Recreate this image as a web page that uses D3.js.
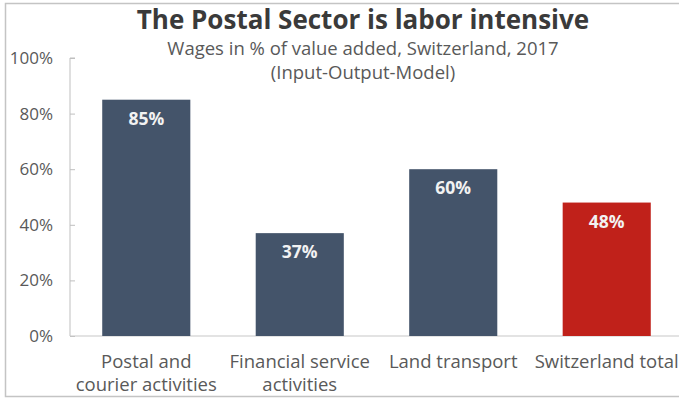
<!DOCTYPE html>
<html>
<head>
<meta charset="utf-8">
<script src="https://cdn.jsdelivr.net/npm/d3@7"></script>
<style>
  html, body { margin: 0; padding: 0; background: #fff; }
  svg { display: block; }
  text { font-family: "Open Sans", "Noto Sans", sans-serif; }
</style>
</head>
<body>
<svg id="chart" width="679" height="399"></svg>
<script>
// Wage share of value added by sector
const categories = [
  ["Postal and", "courier activities"],
  ["Financial service", "activities"],
  ["Land transport"],
  ["Switzerland total"]
];
const values = [85, 37, 60, 48];
const barColors = ["#44546A", "#44546A", "#44546A", "#C0211A"];
const yTicks = [0, 20, 40, 60, 80, 100];

const title = "The Postal Sector is labor intensive";
const subtitle = ["Wages in % of value added, Switzerland, 2017", "(Input-Output-Model)"];

const W = 679, H = 399;
const axisX = 70;
const plotRight = 683;   // plot area continues past the right edge
const yTop = 58, yBottom = 336;

const svg = d3.select("#chart");

// outer frame (right side runs off the canvas)
svg.append("path")
  .attr("d", `M${W + 2},3.5 H5.5 V396.5 H${W + 2}`)
  .attr("fill", "none")
  .attr("stroke", "#c4c4c4")
  .attr("stroke-width", 1.5);

const x = d3.scaleBand()
  .domain(d3.range(values.length))
  .range([axisX, plotRight])
  .paddingInner(0.426)
  .paddingOuter(0.21);

const y = d3.scaleLinear()
  .domain([0, 100])
  .range([yBottom, yTop]);

const titleX = 363;

// title block
svg.append("text")
  .attr("x", titleX).attr("y", 29)
  .attr("text-anchor", "middle")
  .attr("font-size", 26)
  .attr("font-weight", 700)
  .attr("fill", "#3a3a3a")
  .text(title);

svg.selectAll("text.sub")
  .data(subtitle)
  .join("text")
  .attr("class", "sub")
  .attr("x", titleX)
  .attr("y", (d, i) => 55 + i * 24)
  .attr("text-anchor", "middle")
  .attr("font-size", 18.5)
  .attr("fill", "#595959")
  .text(d => d);

// y axis
const yAxis = d3.axisLeft(y)
  .tickValues(yTicks)
  .tickFormat(d => d + "%")
  .tickSize(-5)
  .tickPadding(17);

const gy = svg.append("g")
  .attr("transform", `translate(${axisX},0)`)
  .call(yAxis);
gy.select(".domain").attr("stroke", "#bfbfbf").attr("d", `M5,${y(100)}H0V${y(0)}`);
gy.selectAll(".tick line").attr("stroke", "#bfbfbf");
gy.selectAll(".tick text")
  .attr("font-size", 17)
  .attr("fill", "#595959")
  .attr("font-family", "\"Open Sans\", sans-serif");

// baseline across the plot
svg.append("line")
  .attr("x1", axisX).attr("x2", W)
  .attr("y1", y(0)).attr("y2", y(0))
  .attr("stroke", "#c8c8c8")
  .attr("stroke-width", 1.2);

// bars
svg.selectAll("rect.bar")
  .data(values)
  .join("rect")
  .attr("class", "bar")
  .attr("x", (d, i) => x(i))
  .attr("width", x.bandwidth())
  .attr("y", d => y(d))
  .attr("height", d => y(0) - y(d))
  .attr("fill", (d, i) => barColors[i]);

// value labels inside bars
svg.selectAll("text.val")
  .data(values)
  .join("text")
  .attr("class", "val")
  .attr("x", (d, i) => x(i) + x.bandwidth() / 2)
  .attr("y", d => y(d) + 25)
  .attr("text-anchor", "middle")
  .attr("font-size", 17.5)
  .attr("font-weight", 700)
  .attr("fill", "#f2f2f2")
  .text(d => d + "%");

// category labels
const cat = svg.selectAll("text.cat")
  .data(categories)
  .join("text")
  .attr("class", "cat")
  .attr("x", (d, i) => x(i) + x.bandwidth() / 2)
  .attr("y", y(0) + 32)
  .attr("text-anchor", "middle")
  .attr("font-size", 18.5)
  .attr("fill", "#595959");
cat.selectAll("tspan")
  .data(d => d)
  .join("tspan")
  .attr("x", function () { return d3.select(this.parentNode).attr("x"); })
  .attr("dy", (d, i) => i === 0 ? 0 : 23)
  .text(d => d);
</script>
</body>
</html>
